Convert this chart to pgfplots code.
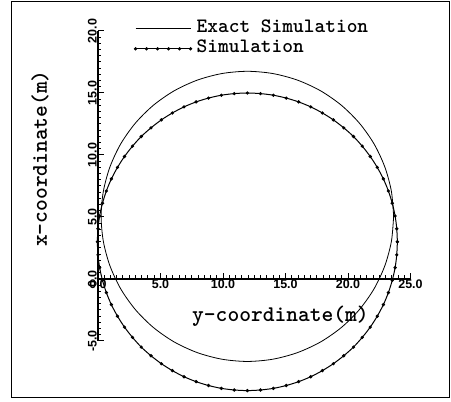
\documentclass[border=0pt]{standalone}
\usepackage{fontspec}
\newfontfamily\tickfont{Liberation Sans}
\usepackage{pgfplots}
\pgfplotsset{compat=1.18}
\newcommand\labfont{\ttfamily\bfseries\fontsize{22.5}{22.5}\selectfont}
\newcommand\legfont{\ttfamily\bfseries\fontsize{20.5}{20.5}\selectfont}

\begin{document}
\begin{tikzpicture}
\begin{axis}[
  x=12.5bp, y=12.4bp,
  xmin=0, xmax=25, ymin=-5, ymax=20,
  axis lines=middle,
  axis line style={-, line width=1.3bp},
  clip=false,
  xtick={0,5,...,25}, ytick={-5,0,...,20},
  minor x tick num=9, minor y tick num=9,
  hide obscured x ticks=false, hide obscured y ticks=false,
  tick align=inside,
  major tick length=5.5bp, minor tick length=3.5bp,
  tick style={line width=1bp, black},
  /pgf/number format/assume math mode=true,
  xticklabel style={font=\tickfont\bfseries\fontsize{12.5}{12.5}\selectfont, anchor=north, inner sep=1bp,
    /pgf/number format/fixed, /pgf/number format/fixed zerofill, /pgf/number format/precision=1},
  yticklabel style={font=\tickfont\bfseries\fontsize{12.5}{12.5}\selectfont, rotate=90, anchor=south, inner sep=1bp,
    /pgf/number format/fixed, /pgf/number format/fixed zerofill, /pgf/number format/precision=1},
  legend style={draw=none, fill=none, at={(axis cs:2.9,21.0)}, anchor=north west, inner sep=0pt,
    font=\legfont, row sep=0pt, nodes={inner sep=1bp, text height=13bp, text depth=5bp}},
  legend cell align=left,
  legend image code/.code={\draw[#1] plot coordinates {(0bp,0bp) (11bp,0bp) (22bp,0bp) (33bp,0bp) (44bp,0bp) (55bp,0bp)};},
]
% exact solution
\addplot[black, line width=0.8bp, smooth, no marks] coordinates {
  (23.65,5.05) (23.47,7.08) (22.94,9.05) (22.08,10.90) (20.91,12.57) (19.47,14.01)
  (17.80,15.18) (15.95,16.04) (13.98,16.57) (11.95,16.75) (9.92,16.57) (7.95,16.04)
  (6.10,15.18) (4.43,14.01) (2.99,12.57) (1.82,10.90) (0.96,9.05) (0.43,7.08)
  (0.25,5.05) (0.43,3.02) (0.96,1.05) (1.82,-0.80) (2.99,-2.47) (4.43,-3.91)
  (6.10,-5.08) (7.95,-5.94) (9.92,-6.47) (11.95,-6.65) (13.98,-6.47) (15.95,-5.94)
  (17.80,-5.08) (19.47,-3.91) (20.91,-2.47) (22.08,-0.80) (22.94,1.05) (23.47,3.02)
  (23.65,5.05)
};
\addlegendentry{\hspace{4bp}Exact Simulation}
% simulation
\addplot[black, line width=1bp, smooth, mark=*, mark size=1.1bp] coordinates {
  (23.95,3.00) (23.90,4.05) (23.77,5.08) (23.54,6.11) (23.23,7.10) (22.83,8.07)
  (22.34,9.00) (21.78,9.88) (21.14,10.71) (20.44,11.49) (19.66,12.19) (18.83,12.83)
  (17.95,13.39) (17.02,13.88) (16.05,14.28) (15.06,14.59) (14.03,14.82) (13.00,14.95)
  (11.95,15.00) (10.90,14.95) (9.87,14.82) (8.84,14.59) (7.85,14.28) (6.88,13.88)
  (5.95,13.39) (5.07,12.83) (4.24,12.19) (3.46,11.49) (2.76,10.71) (2.12,9.88)
  (1.56,9.00) (1.07,8.07) (0.67,7.10) (0.36,6.11) (0.13,5.08) (0.00,4.05)
  (-0.05,3.00) (0.00,1.95) (0.13,0.92) (0.36,-0.11) (0.67,-1.10) (1.07,-2.07)
  (1.56,-3.00) (2.12,-3.88) (2.76,-4.71) (3.46,-5.49) (4.24,-6.19) (5.07,-6.83)
  (5.95,-7.39) (6.88,-7.88) (7.85,-8.28) (8.84,-8.59) (9.87,-8.82) (10.90,-8.95)
  (11.95,-9.00) (13.00,-8.95) (14.03,-8.82) (15.06,-8.59) (16.05,-8.28) (17.02,-7.88)
  (17.95,-7.39) (18.83,-6.83) (19.66,-6.19) (20.44,-5.49) (21.14,-4.71) (21.78,-3.88)
  (22.34,-3.00) (22.83,-2.07) (23.23,-1.10) (23.54,-0.11) (23.77,0.92) (23.90,1.95)
  (23.95,3.00)
};
\addlegendentry{\hspace{4bp}Simulation}
\node[rotate=90, anchor=base west, inner sep=0pt, font=\labfont]
  at (axis cs:-4.08,2.58) {x-coordinate(m)};
\node[anchor=base west, inner sep=0pt, font=\labfont]
  at (axis cs:7.52,-3.44) {y-coordinate(m)};
\draw[line width=1bp] (axis cs:-6.88,-9.52) rectangle (axis cs:28.08,22.38);
\coordinate (bl) at (axis cs:-7.84,-9.84);
\coordinate (tr) at (axis cs:28.24,22.5);
\end{axis}
\pgfresetboundingbox
\path (bl) rectangle (tr);
\end{tikzpicture}
\end{document}
